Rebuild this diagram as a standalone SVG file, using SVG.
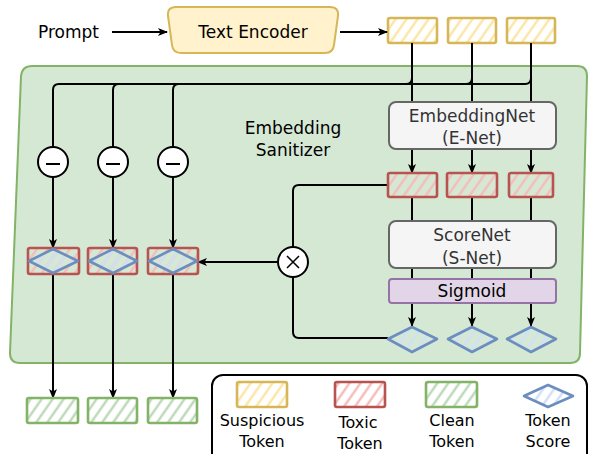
<svg xmlns="http://www.w3.org/2000/svg" width="589" height="454" viewBox="0 0 589 454">
<defs>
<style>
text{font-family:"Comic Sans MS","DejaVu Sans",sans-serif;fill:#000}
.t17{font-size:17px}
.t16{font-size:16px}
.gray{fill:#333}
.ln{fill:none;stroke:#000;stroke-width:2}
.arr{fill:none;stroke:#000;stroke-width:2;marker-end:url(#ah)}
.y{fill:url(#hy);stroke:#d6b656;stroke-width:2.6}
.r{fill:url(#hr);stroke:#b85450;stroke-width:2.6}
.g{fill:url(#hg);stroke:#82b366;stroke-width:2.6}
.b{fill:url(#hb);stroke:#6c8ebf;stroke-width:2.6;stroke-linejoin:round}
.op{fill:#fff;stroke:#000;stroke-width:2}
</style>
<marker id="ah" viewBox="0 0 10 10" refX="9" refY="5" markerWidth="10" markerHeight="10" orient="auto" markerUnits="userSpaceOnUse">
<path d="M0,1 L10,5 L0,9 L2.5,5 Z" fill="#000"/>
</marker>
<pattern id="hy" width="9" height="9" patternUnits="userSpaceOnUse" patternTransform="rotate(35)"><line x1="2" y1="0" x2="2" y2="9" stroke="#fbe6a8" stroke-width="2.5"/></pattern>
<pattern id="hr" width="9" height="9" patternUnits="userSpaceOnUse" patternTransform="rotate(35)"><line x1="2" y1="0" x2="2" y2="9" stroke="#f4bcba" stroke-width="2.5"/></pattern>
<pattern id="hg" width="9" height="9" patternUnits="userSpaceOnUse" patternTransform="rotate(35)"><line x1="2" y1="0" x2="2" y2="9" stroke="#bcdab8" stroke-width="2.5"/></pattern>
<pattern id="hb" width="9" height="9" patternUnits="userSpaceOnUse" patternTransform="rotate(35)"><line x1="2" y1="0" x2="2" y2="9" stroke="#cfe0f7" stroke-width="2.5"/></pattern>
</defs>

<g id="sanitizer">
<path d="M32,66 H577 Q587,66 587,76 L580,353 Q580,363 570,363 H20 Q10,363 10,353 L21,76 Q22,66 32,66 Z" fill="#d5e8d4" stroke="#82b366" stroke-width="2"/>
<text class="t17" x="293" y="134" text-anchor="middle">Embedding</text>
<text class="t17" x="293" y="156" text-anchor="middle">Sanitizer</text>
</g>

<g id="prompt"><text class="t17" x="38" y="38">Prompt</text></g>

<g id="text-encoder">
<path d="M176,7 H330 Q339,7 338,16 L334,45 Q333,53 325,53 H181 Q173,53 172,45 L168,16 Q167,7 176,7 Z" fill="#fff2cc" stroke="#d6b656" stroke-width="2"/>
<text class="t17" x="253" y="38" text-anchor="middle">Text Encoder</text>
</g>

<g id="suspicious-tokens">
<rect class="y" x="388" y="18" width="49" height="25" rx="2"/>
<rect class="y" x="448" y="18" width="48" height="25" rx="2"/>
<rect class="y" x="507" y="18" width="48" height="25" rx="2"/>
</g>

<g id="connectors">
<path class="arr" d="M112,32 H167"/>
<path class="arr" d="M340,32 H387"/>
<path class="ln" d="M412,43 V102 M472,43 V102 M531,43 V102"/>
<path class="ln" d="M412,43 V78 Q412,84 406,84 H59 Q53,84 53,90 V147"/>
<path class="ln" d="M472,43 V78 Q472,84 466,84 H119 Q113,84 113,90 V147"/>
<path class="ln" d="M531,43 V78 Q531,84 525,84 H179 Q173,84 173,90 V147"/>
<path class="arr" d="M53,177 V248"/>
<path class="arr" d="M113,177 V248"/>
<path class="arr" d="M173,177 V248"/>
<path class="arr" d="M412,149 V173"/>
<path class="arr" d="M472,149 V173"/>
<path class="arr" d="M531,149 V173"/>
<path class="ln" d="M412,197 V221 M472,197 V221 M531,197 V221"/>
<path class="ln" d="M412,268 V279 M472,268 V279 M531,268 V279"/>
<path class="arr" d="M412,303 V326"/>
<path class="arr" d="M472,303 V326"/>
<path class="arr" d="M531,303 V326"/>
<path class="ln" d="M388,185 H299 Q293,185 293,191 V247"/>
<path class="ln" d="M293,277 V332 Q293,338 299,338 H388"/>
<path class="arr" d="M278,262 H198"/>
<path class="arr" d="M53,274 V398"/>
<path class="arr" d="M113,274 V398"/>
<path class="arr" d="M173,274 V398"/>
</g>

<g id="minus-ops">
<circle class="op" cx="53" cy="162" r="15"/><path class="ln" d="M46,164 H60"/>
<circle class="op" cx="113" cy="162" r="15"/><path class="ln" d="M106,164 H120"/>
<circle class="op" cx="173" cy="162" r="15"/><path class="ln" d="M166,164 H180"/>
</g>

<g id="multiply-op">
<circle class="op" cx="293" cy="262" r="15"/>
<path d="M287,256 L299,268 M299,256 L287,268" stroke="#000" stroke-width="1.5"/>
</g>

<g id="e-net">
<rect x="389" y="102" width="167" height="47" rx="7" fill="#f5f5f5" stroke="#666" stroke-width="2"/>
<text class="t17 gray" x="472" y="122" text-anchor="middle">EmbeddingNet</text>
<text class="t17 gray" x="472" y="144" text-anchor="middle">(E-Net)</text>
</g>

<g id="toxic-tokens">
<rect class="r" x="388" y="173" width="49" height="24" rx="2"/>
<rect class="r" x="447" y="173" width="50" height="24" rx="2"/>
<rect class="r" x="509" y="173" width="44" height="24" rx="2"/>
</g>

<g id="s-net">
<rect x="389" y="221" width="167" height="47" rx="7" fill="#f5f5f5" stroke="#666" stroke-width="2"/>
<text class="t17 gray" x="472" y="241" text-anchor="middle">ScoreNet</text>
<text class="t17 gray" x="472" y="264" text-anchor="middle">(S-Net)</text>
</g>

<g id="sigmoid">
<rect x="389" y="279" width="167" height="24" rx="3" fill="#e1d5e7" stroke="#9673a6" stroke-width="2"/>
<text class="t17" x="472" y="297" text-anchor="middle">Sigmoid</text>
</g>

<g id="token-scores">
<path class="b" d="M388,339 L412,327 L437,339 L412,352 Z"/>
<path class="b" d="M448,339 L472,327 L497,339 L472,352 Z"/>
<path class="b" d="M507,339 L531,327 L556,339 L531,352 Z"/>
</g>

<g id="weighted-tokens">
<rect class="r" x="28" y="248" width="51" height="26" rx="2"/>
<path class="b" d="M29,261 L53,249 L78,261 L53,273 Z"/>
<rect class="r" x="88" y="248" width="49" height="26" rx="2"/>
<path class="b" d="M89,261 L113,249 L137,261 L113,273 Z"/>
<rect class="r" x="148" y="248" width="50" height="26" rx="2"/>
<path class="b" d="M149,261 L173,249 L197,261 L173,273 Z"/>
</g>

<g id="clean-tokens">
<rect class="g" x="27" y="398" width="51" height="25" rx="2"/>
<rect class="g" x="88" y="398" width="49" height="25" rx="2"/>
<rect class="g" x="148" y="398" width="49" height="25" rx="2"/>
</g>

<g id="legend">
<rect x="212" y="375" width="375" height="90" rx="11" fill="#fff" stroke="#000" stroke-width="2"/>
<rect class="y" x="237" y="382" width="50" height="25" rx="2"/>
<text class="t16" x="262" y="426" text-anchor="middle">Suspicious</text>
<text class="t16" x="262" y="447" text-anchor="middle">Token</text>
<rect class="r" x="335" y="382" width="50" height="25" rx="2"/>
<text class="t16" x="358" y="428" text-anchor="middle">Toxic</text>
<text class="t16" x="360" y="449" text-anchor="middle">Token</text>
<rect class="g" x="426" y="382" width="51" height="25" rx="2"/>
<text class="t16" x="452" y="426" text-anchor="middle">Clean</text>
<text class="t16" x="452" y="447" text-anchor="middle">Token</text>
<path class="b" d="M524,396 L548,385 L573,396 L548,407 Z"/>
<text class="t16" x="548" y="426" text-anchor="middle">Token</text>
<text class="t16" x="548" y="447" text-anchor="middle">Score</text>
</g>
</svg>
